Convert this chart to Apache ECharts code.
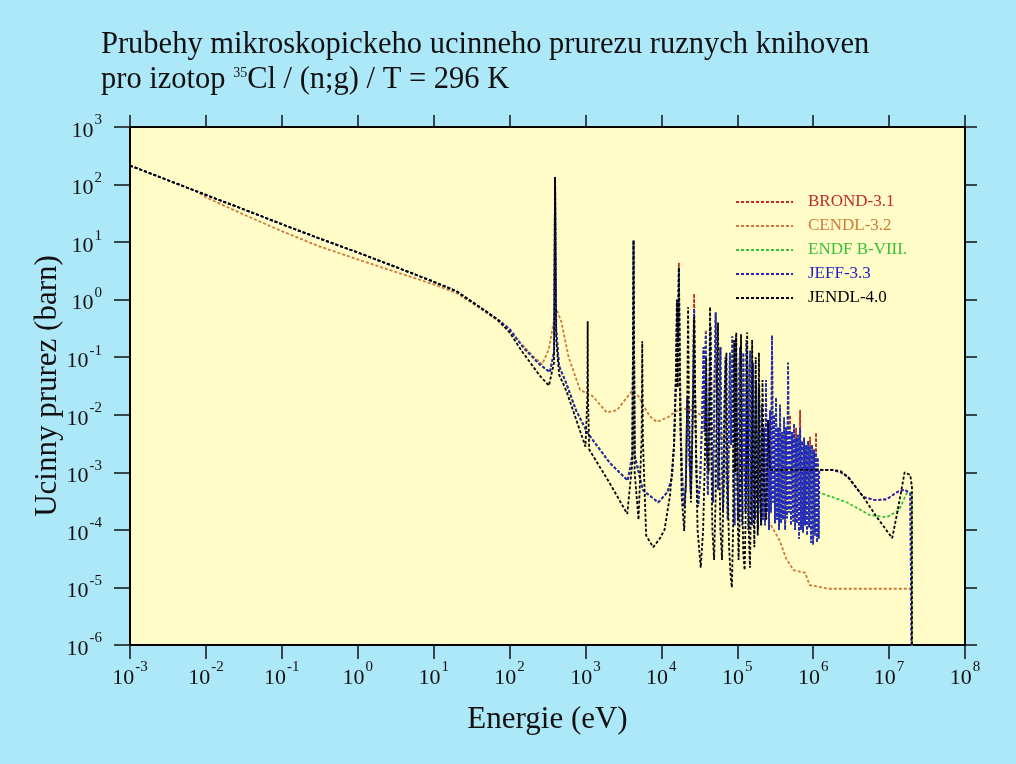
<!DOCTYPE html>
<html><head><meta charset="utf-8">
<script src="https://cdn.jsdelivr.net/npm/echarts@6/dist/echarts.min.js"></script>
<style>html,body{margin:0;padding:0;background:#ADE8F8}#c{width:1016px;height:764px}</style>
</head><body><div id="c"></div><script>
// ---- Data (energy in eV, cross section in barn) ----
const seriesNames = ['BROND-3.1', 'CENDL-3.2', 'ENDF B-VIII.', 'JEFF-3.3', 'JENDL-4.0'];
const xTicksExp = [-3, -2, -1, 0, 1, 2, 3, 4, 5, 6, 7, 8];
const yTicksExp = [-6, -5, -4, -3, -2, -1, 0, 1, 2, 3];

// shared thermal / 1/v part (BROND, ENDF, JEFF, JENDL)
const lowShared = [[1e-3, 214], [3e-3, 122], [1e-2, 66], [3e-2, 38], [0.1, 20.5], [0.3, 11.8], [1, 6.6], [3, 3.8], [10, 2.05], [20, 1.4], [40, 0.75], [70, 0.45]];

// JEFF (also BROND / ENDF) from 100 eV to 12 keV
const jeffMid = [[100, 0.31], [150, 0.15], [250, 0.075], [340, 0.055], [385, 0.12], [398, 135], [412, 0.3], [450, 0.07], [560, 0.035], [750, 0.012], [1070, 0.0048], [2100, 0.00145], [3600, 7.2e-4], [4150, 2e-3], [4300, 10.7], [4450, 2e-3], [5700, 4.9e-4], [9100, 3e-4], [1.2e4, 4.5e-4]];

// JEFF resonance region 13 keV - 1.2 MeV
const jeffRes = [[1.38e4, 8e-4], [1.47e4, 3e-3], [1.56e4, 0.06], [1.62e4, 1.0], [1.66e4, 0.2], [1.7e4, 3.6], [1.74e4, 0.2], [1.8e4, 5e-3], [1.9e4, 6e-4], [2.0e4, 2.5e-4], [2.1e4, 6e-4], [2.2e4, 0.02], [2.3e4, 3e-3], [2.45e4, 4e-4], [2.6e4, 0.02], [2.7e4, 0.7], [2.78e4, 0.03], [2.9e4, 1e-3], [3.05e4, 2.5e-4], [3.25e4, 8e-4], [3.45e4, 0.01], [3.6e4, 0.15], [3.7e4, 0.005], [3.85e4, 0.27], [3.95e4, 0.004], [4.1e4, 4e-4], [4.3e4, 0.02], [4.45e4, 0.35], [4.6e4, 0.01], [4.8e4, 3e-4], [5.0e4, 0.03], [5.2e4, 0.6], [5.4e4, 0.02], [5.6e4, 5e-4], [5.8e4, 0.01], [6.0e4, 0.15], [6.2e4, 0.003], [6.5e4, 2e-4], [6.8e4, 0.02], [7.0e4, 0.1], [7.2e4, 1e-3], [7.5e4, 1.5e-4], [7.8e4, 0.01], [8.0e4, 0.12], [8.3e4, 0.003], [8.6e4, 0.23], [8.9e4, 1e-3], [9.2e4, 1.2e-4], [9.6e4, 0.22], [1.0e5, 2e-3], [1.03e5, 1.5e-4], [1.06e5, 0.05], [1.09e5, 0.15], [1.12e5, 5e-4], [1.16e5, 1.2e-4], [1.2e5, 0.12], [1.24e5, 2e-3], [1.28e5, 2e-4], [1.32e5, 0.2], [1.36e5, 1e-3], [1.4e5, 1e-4], [1.44e5, 0.05], [1.48e5, 0.13], [1.52e5, 5e-4], [1.57e5, 1.2e-4], [1.62e5, 0.08], [1.66e5, 2e-3], [1.71e5, 1.5e-4], [1.77e5, 0.04], [1.82e5, 1e-3], [1.88e5, 1e-4], [1.94e5, 0.03], [2.0e5, 5e-4], [2.06e5, 1.2e-4], [2.12e5, 0.015], [2.18e5, 1.5e-4], [2.25e5, 0.006], [2.32e5, 1.2e-4], [2.39e5, 0.04], [2.46e5, 2e-4], [2.55e5, 0.008], [2.62e5, 1e-4], [2.7e5, 0.012], [2.78e5, 2e-4], [2.87e5, 0.24], [2.96e5, 3e-4], [3.05e5, 0.01], [3.14e5, 1.3e-4], [3.24e5, 0.02], [3.34e5, 1.5e-4], [3.45e5, 0.006], [3.55e5, 1e-4], [3.66e5, 0.015], [3.77e5, 1.3e-4], [3.89e5, 0.005], [4.0e5, 1.5e-4], [4.14e5, 0.009], [4.27e5, 1e-4], [4.4e5, 0.006], [4.53e5, 1.6e-4], [4.67e5, 0.08], [4.8e5, 2e-4], [4.96e5, 0.006], [5.1e5, 1.2e-4], [5.27e5, 0.005], [5.43e5, 1.4e-4], [5.6e5, 0.007], [5.77e5, 1e-4], [5.95e5, 0.004], [6.13e5, 1.3e-4], [6.32e5, 0.0045], [6.52e5, 7e-5], [6.72e5, 0.006], [6.92e5, 1e-4], [7.14e5, 0.0035], [7.36e5, 9e-5], [7.59e5, 0.004], [7.82e5, 1.2e-4], [8.06e5, 0.003], [8.31e5, 8e-5], [8.57e5, 0.0035], [8.83e5, 1.1e-4], [9.1e5, 0.0028], [9.38e5, 6e-5], [9.68e5, 0.003], [9.98e5, 5.5e-5], [1.03e6, 0.0025], [1.06e6, 8e-5], [1.09e6, 0.0022], [1.12e6, 6e-5], [1.15e6, 0.0018], [1.18e6, 7e-5]];

// BROND peaks that stand above JEFF
const brondTips = [[1.7e4, 4.4], [2.7e4, 1.275], [3.85e4, 0.298], [9.6e4, 0.243], [4.96e5, 0.0099], [5.95e5, 0.00596], [6.72e5, 0.0121], [9.1e5, 0.00417], [1.09e6, 0.0049]];

// high energy parts
const jeffHigh = [[1.2e6, 1.1e-3], [1.8e6, 1.1e-3], [2.3e6, 1.0e-3], [2.9e6, 8.2e-4], [4.6e6, 3.7e-4], [6.5e6, 3.3e-4], [9.3e6, 3.4e-4], [1.3e7, 4.6e-4], [1.6e7, 5e-4], [1.9e7, 4.3e-4], [2.0e7, 4.2e-4], [2.0e7, 1e-7]];
const endfHigh = [[1.2e6, 4.5e-4], [1.3e6, 4.3e-4], [2.8e6, 3e-4], [5.6e6, 1.8e-4], [9.3e6, 1.66e-4], [1.35e7, 2.2e-4], [1.7e7, 4.3e-4], [2.0e7, 4.5e-4], [2.0e7, 1e-7]];

// JENDL-4.0 from 100 eV upwards
const jendlHigh = [[100, 0.27], [150, 0.12], [250, 0.048], [330, 0.032], [385, 0.08], [398, 135], [412, 0.2], [450, 0.05], [560, 0.026], [1000, 0.0028], [1060, 0.02], [1070, 0.42], [1080, 0.02], [1120, 0.0025], [2100, 6.4e-4], [3550, 1.9e-4], [4150, 1.5e-3], [4300, 10.7], [4450, 1e-3], [5000, 1.5e-4], [5500, 4e-3], [5600, 0.19], [5700, 4e-3], [6300, 8e-5], [7800, 5e-5], [9500, 7e-5], [1.1e4, 1e-4], [1.3e4, 4e-4], [1.47e4, 3e-3], [1.55e4, 0.03], [1.6e4, 1.0], [1.64e4, 0.03], [1.7e4, 3.6], [1.75e4, 0.03], [1.85e4, 4e-4], [2.0e4, 9.6e-5], [2.12e4, 1e-3], [2.2e4, 0.03], [2.25e4, 0.74], [2.3e4, 0.02], [2.45e4, 3e-4], [2.6e4, 0.01], [2.7e4, 0.5], [2.8e4, 0.01], [3.0e4, 1e-4], [3.3e4, 2.2e-5], [3.55e4, 1e-4], [3.75e4, 2e-3], [3.9e4, 0.1], [4.0e4, 2e-3], [4.2e4, 1e-3], [4.38e4, 0.75], [4.5e4, 5e-3], [4.7e4, 1e-4], [4.95e4, 3e-5], [5.2e4, 4e-4], [5.4e4, 0.05], [5.58e4, 0.4], [5.75e4, 3e-3], [6.0e4, 1e-4], [6.3e4, 3e-5], [6.6e4, 5e-4], [6.9e4, 0.03], [7.2e4, 0.12], [7.4e4, 1e-3], [7.8e4, 5e-5], [8.2e4, 1.5e-5], [8.5e4, 1e-5], [8.8e4, 1e-4], [9.1e4, 0.2], [9.4e4, 1e-3], [9.7e4, 0.27], [1.0e5, 5e-4], [1.04e5, 3e-5], [1.08e5, 2e-4], [1.12e5, 0.25], [1.15e5, 1e-3], [1.2e5, 4e-5], [1.25e5, 2e-5], [1.3e5, 3e-4], [1.35e5, 0.27], [1.39e5, 2e-3], [1.43e5, 6e-5], [1.47e5, 2.2e-5], [1.52e5, 4e-4], [1.57e5, 0.2], [1.62e5, 5e-4], [1.68e5, 5e-5], [1.75e5, 0.1], [1.8e5, 6e-4], [1.86e5, 8e-5], [1.93e5, 0.12], [2.0e5, 4e-4], [2.07e5, 1.2e-4], [2.15e5, 0.04], [2.25e5, 6e-4], [2.4e5, 1.5e-4], [2.55e5, 8e-3], [2.7e5, 1.1e-3], [1.8e6, 1.1e-3], [2.3e6, 1.05e-3], [2.9e6, 8.2e-4], [4.6e6, 3.7e-4], [6.9e6, 1.66e-4], [1.1e7, 7.2e-5], [1.3e7, 2.2e-4], [1.6e7, 1e-3], [1.9e7, 9e-4], [2.0e7, 5.6e-4], [2.0e7, 1e-7]];

const cendl = [[8.3e-3, 70], [1e-2, 60], [3e-2, 31], [0.1, 15.5], [0.3, 8.6], [1, 5], [3, 3.1], [10, 1.85], [20, 1.3], [40, 0.72], [70, 0.43], [100, 0.28], [150, 0.16], [210, 0.1], [270, 0.075], [330, 0.14], [380, 0.4], [420, 0.66], [480, 0.42], [600, 0.1], [850, 0.027], [1250, 0.021], [1900, 0.011], [2600, 0.012], [3300, 0.018], [4100, 0.026], [5000, 0.021], [5700, 0.015], [7000, 0.0095], [8700, 0.0075], [1.2e4, 0.009], [1.8e4, 0.013], [2.6e4, 0.012], [3.5e4, 0.0095], [4.8e4, 0.006], [8.7e4, 0.0024], [1.2e5, 1.3e-3], [1.7e5, 5e-4], [2.4e5, 1.7e-4], [3.6e5, 6.6e-5], [4.4e5, 3.2e-5], [5.5e5, 2e-5], [7.8e5, 1.8e-5], [9e5, 1.1e-5], [1.6e6, 9.5e-6], [2e7, 9.5e-6]];

const colors = ['#C22A28', '#D0783A', '#38C038', '#2424C4', '#000000'];

// ---- assemble ----
const jeffAll = lowShared.concat(jeffMid, jeffRes, jeffHigh);
const brondAll = jeffAll.map(([e, v]) => { const t = brondTips.find(p => p[0] === e); return [e, t ? t[1] : v]; });
const endfAll = lowShared.concat(jeffMid, jeffRes, endfHigh);
const jendlAll = lowShared.concat(jendlHigh);
const dataSets = [brondAll, cendl, endfAll, jeffAll, jendlAll];

const FONT = 'Liberation Serif';
const sup = v => { const e = Math.round(Math.log10(v)); return '{b|10}{s|' + e + '}'; };
const richLbl = {
  b: { fontFamily: FONT, fontSize: 22, color: '#111', lineHeight: 30, verticalAlign: 'bottom' },
  s: { fontFamily: FONT, fontSize: 15, color: '#111', lineHeight: 30, verticalAlign: 'top', padding: [1, 0, 0, 1] }
};

const chart = echarts.init(document.getElementById('c'), null, { renderer: 'canvas' });
chart.setOption({
  animation: false,
  backgroundColor: '#ADE8F8',
  title: {
    text: 'Prubehy mikroskopickeho ucinneho prurezu ruznych knihoven\npro izotop {s|35}Cl / (n;g) / T = 296 K',
    left: 96, top: 22,
    textStyle: {
      fontFamily: FONT, fontSize: 30.5, fontWeight: 'normal', color: '#111', lineHeight: 35,
      rich: { s: { fontFamily: FONT, fontSize: 14, color: '#111', verticalAlign: 'top', lineHeight: 35, padding: [4, 0, 0, 0] } }
    }
  },
  legend: {
    orient: 'vertical', left: 730, top: 187,
    itemWidth: 57, itemHeight: 12, itemGap: 4,
    itemStyle: { opacity: 0 },
    data: seriesNames.map((n, i) => ({ name: n, textStyle: { color: colors[i] } })),
    textStyle: { fontFamily: FONT, fontSize: 17, lineHeight: 20, padding: [0, 0, 0, 10] }
  },
  grid: { left: 130, right: 51, top: 127, bottom: 119, show: true, backgroundColor: '#FFFCC8', borderColor: '#000', borderWidth: 2 },
  xAxis: [
    { type: 'log', logBase: 10, min: 1e-3, max: 1e8, interval: 1, position: 'bottom',
      name: 'Energie (eV)', nameLocation: 'middle', nameGap: 59, nameMoveOverlap: false,
      nameTextStyle: { fontFamily: FONT, fontSize: 31, color: '#111' },
      axisLine: { lineStyle: { color: '#000', width: 2 } },
      axisTick: { inside: false, length: 14, lineStyle: { color: '#111', width: 1.5 } },
      axisLabel: { margin: 14, formatter: sup, rich: richLbl },
      splitLine: { show: false }, minorTick: { show: false } },
    { type: 'log', logBase: 10, min: 1e-3, max: 1e8, interval: 1, position: 'top',
      axisLine: { lineStyle: { color: '#000', width: 2 } },
      axisTick: { inside: false, length: 12, lineStyle: { color: '#111', width: 1.5 } },
      axisLabel: { show: false }, splitLine: { show: false } }
  ],
  yAxis: [
    { type: 'log', logBase: 10, min: 1e-6, max: 1e3, interval: 1, position: 'left',
      name: 'Ucinny prurez (barn)', nameLocation: 'middle', nameGap: 67, nameRotate: 90, nameMoveOverlap: false,
      nameTextStyle: { fontFamily: FONT, fontSize: 31, color: '#111' },
      axisLine: { lineStyle: { color: '#000', width: 2 } },
      axisTick: { inside: false, length: 16, lineStyle: { color: '#111', width: 1.5 } },
      axisLabel: { margin: 28, formatter: sup, rich: richLbl },
      splitLine: { show: false }, minorTick: { show: false } },
    { type: 'log', logBase: 10, min: 1e-6, max: 1e3, interval: 1, position: 'right',
      axisLine: { lineStyle: { color: '#000', width: 2 } },
      axisTick: { inside: false, length: 12, lineStyle: { color: '#111', width: 1.5 } },
      axisLabel: { show: false }, splitLine: { show: false } }
  ],
  series: seriesNames.map((n, i) => ({
    name: n, type: 'line', data: dataSets[i], symbol: 'none',
    xAxisIndex: 0, yAxisIndex: 0, clip: true,
    lineStyle: { color: colors[i], width: 1.8, type: [3, 2] },
    itemStyle: { color: colors[i] }
  }))
});
</script></body></html>
